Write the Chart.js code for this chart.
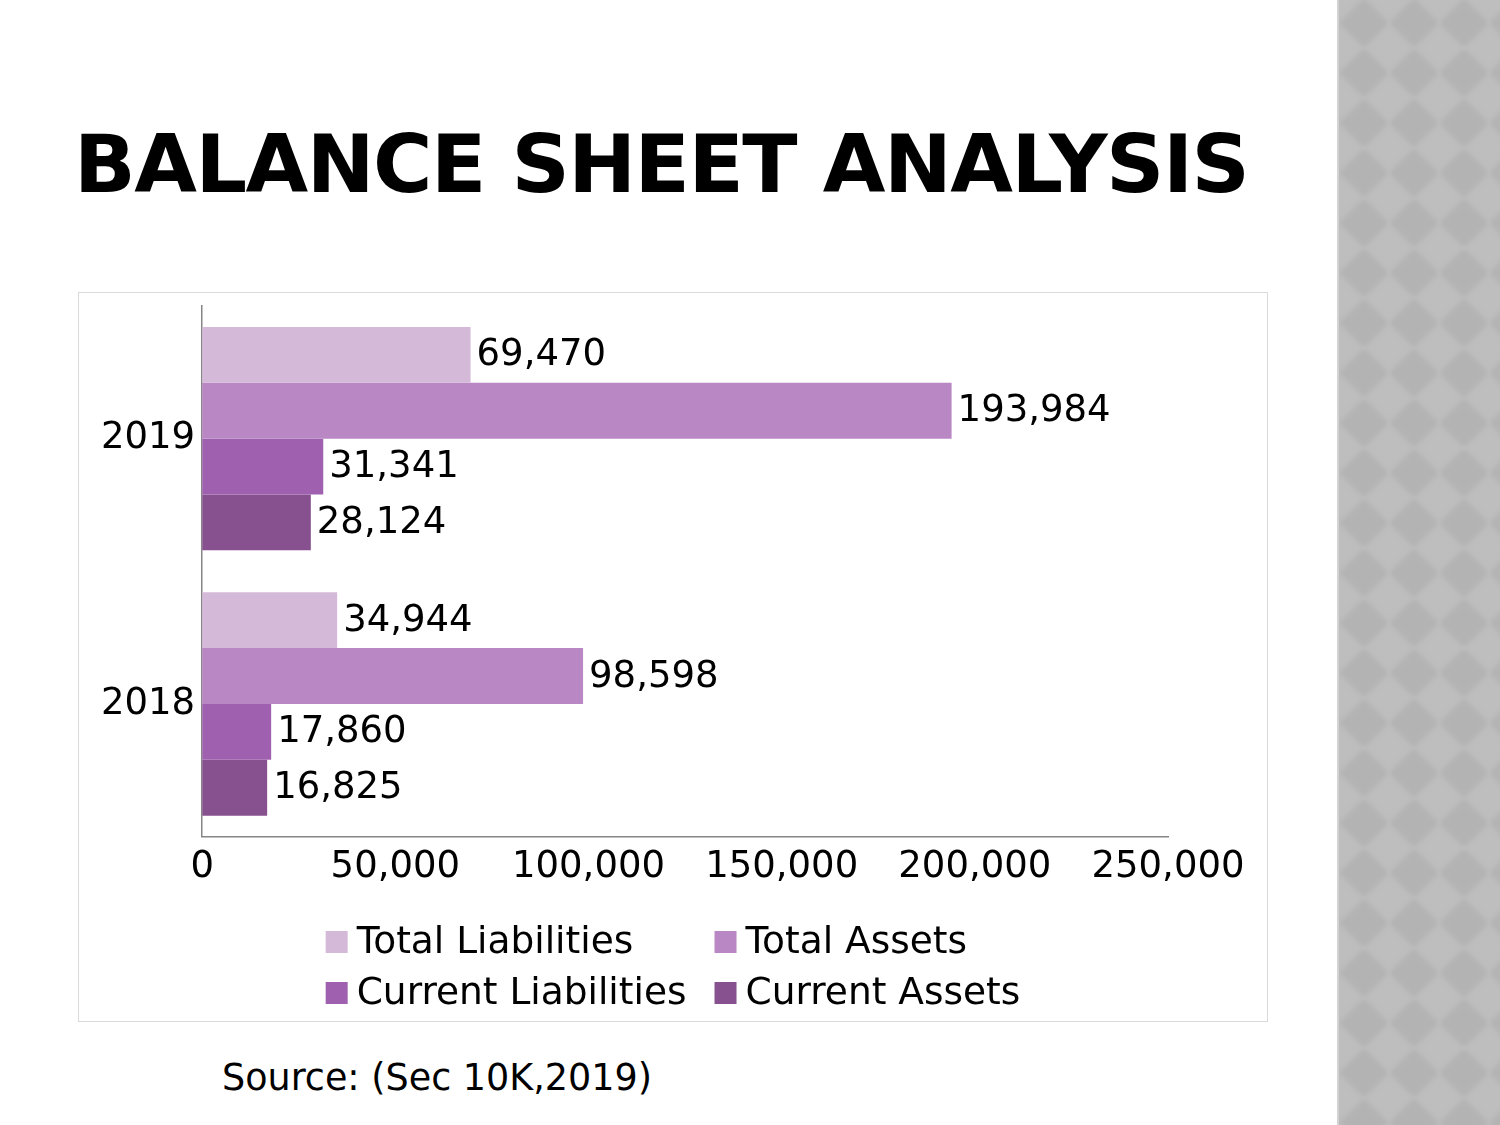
<!DOCTYPE html>
<html>
<head>
<meta charset="utf-8">
<script src="https://cdn.jsdelivr.net/npm/chart.js@4/dist/chart.umd.min.js"></script>
<style>
    html, body { margin: 0; padding: 0; }
    body {
        width: 1500px;
        height: 1125px;
        position: relative;
        background: #ffffff;
        font-family: 'DejaVu Sans', sans-serif;
        overflow: hidden;
    }
    #titulo {
        position: absolute;
        left: 74px;
        top: 114px;
        font-size: 81px;
        font-weight: bold;
        letter-spacing: -1.5px;
        line-height: 100px;
        color: #000;
        white-space: nowrap;
    }
    #faixa {
        position: absolute;
        left: 1337px;
        top: 0;
        width: 163px;
        height: 1125px;
        border-left: 2px solid #d2d2d2;
        box-sizing: border-box;
        background-color: #bebebe;
        background-image: url("data:image/svg+xml;utf8,<svg xmlns='http://www.w3.org/2000/svg' width='50' height='50'><defs><filter id='b'><feGaussianBlur stdDeviation='2.5'/></filter></defs><polygon points='25,0 50,25 25,50 0,25' fill='%23b3b3b3' filter='url(%23b)'/></svg>");
        background-position: 0px -2px;
    }
    #caixa {
        position: absolute;
        left: 78px;
        top: 292px;
        width: 1190px;
        height: 730px;
        border: 1px solid #d9d9d9;
        box-sizing: border-box;
    }
    #fonte {
        position: absolute;
        left: 222px;
        top: 1056px;
        font-size: 36.5px;
        line-height: 44px;
        color: #000;
        white-space: nowrap;
    }
</style>
</head>
<body>
<div id="titulo">BALANCE SHEET ANALYSIS</div>
<div id="faixa"></div>
<div id="caixa"><canvas id="grafico-balanco" width="1188" height="728"></canvas></div>
<div id="fonte">Source: (Sec 10K,2019)</div>

<script>
// Dados do gráfico
const anos = ['2019', '2018'];
const totalLiabilities = [69470, 34944];
const totalAssets = [193984, 98598];
const currentLiabilities = [31341, 17860];
const currentAssets = [28124, 16825];
const nomesSeries = ['Total Liabilities', 'Total Assets', 'Current Liabilities', 'Current Assets'];
const ticksX = [0, 50000, 100000, 150000, 200000, 250000];

const cores = ['#d4b9d9', '#b987c4', '#a060b0', '#87518f'];
const fonteBase = "'DejaVu Sans', sans-serif";

function formatarNumero(v) {
    return v.toLocaleString('en-US');
}

// Plugin para rótulos de valor no fim das barras
const rotulosValores = {
    id: 'rotulosValores',
    afterDatasetsDraw(chart) {
        const ctx = chart.ctx;
        ctx.save();
        ctx.font = '37px ' + fonteBase;
        ctx.fillStyle = '#000';
        ctx.textBaseline = 'middle';
        ctx.textAlign = 'left';
        chart.data.datasets.forEach((ds, i) => {
            chart.getDatasetMeta(i).data.forEach((bar, j) => {
                ctx.fillText(formatarNumero(ds.data[j]), bar.x + 6, bar.y + 1);
            });
        });
        ctx.restore();
    }
};

// Plugin para legenda em duas colunas
const legendaGrade = {
    id: 'legendaGrade',
    afterDraw(chart) {
        const ctx = chart.ctx;
        const ds = chart.data.datasets;
        ctx.save();
        ctx.font = '37.5px ' + fonteBase;
        ctx.textBaseline = 'middle';
        const caixa = 22, gap = 9, espaco = 28;
        const larg = ds.map(d => caixa + gap + ctx.measureText(d.label).width);
        const col1 = Math.max(larg[0], larg[2]);
        const col2 = Math.max(larg[1], larg[3]);
        const total = col1 + espaco + col2;
        const x0 = (chart.width - total) / 2;
        const xs = [x0, x0 + col1 + espaco];
        const ys = [649, 700];
        ds.forEach((d, i) => {
            const x = xs[i % 2];
            const y = ys[Math.floor(i / 2)];
            ctx.fillStyle = d.backgroundColor;
            ctx.fillRect(x, y - 11, caixa, caixa);
            ctx.fillStyle = '#000';
            ctx.fillText(d.label, x + caixa + gap, y + 1);
        });
        ctx.restore();
    }
};

const ctx = document.getElementById('grafico-balanco');
new Chart(ctx, {
    type: 'bar',
    data: {
        labels: anos,
        datasets: [
            { label: nomesSeries[0], data: totalLiabilities, backgroundColor: cores[0] },
            { label: nomesSeries[1], data: totalAssets, backgroundColor: cores[1] },
            { label: nomesSeries[2], data: currentLiabilities, backgroundColor: cores[2] },
            { label: nomesSeries[3], data: currentAssets, backgroundColor: cores[3] }
        ]
    },
    options: {
        indexAxis: 'y',
        responsive: false,
        animation: false,
        categoryPercentage: 0.842,
        barPercentage: 1,
        layout: {
            padding: { left: 15, right: 99, top: 13, bottom: 122 }
        },
        scales: {
            x: {
                min: 0,
                max: 250000,
                afterBuildTicks(scale) {
                    scale.ticks = ticksX.map(v => ({ value: v }));
                },
                ticks: {
                    color: '#000',
                    padding: 9,
                    maxRotation: 0,
                    font: { family: fonteBase, size: 37 },
                    callback: v => formatarNumero(v)
                },
                grid: { display: false, drawTicks: false },
                border: { display: true, color: '#868686', width: 1.5 }
            },
            y: {
                afterFit(scale) {
                    scale.paddingTop = 0;
                    scale.paddingBottom = 0;
                },
                ticks: {
                    color: '#000',
                    padding: 7,
                    font: { family: fonteBase, size: 37 }
                },
                grid: { display: false, drawTicks: false },
                border: { display: true, color: '#868686', width: 1.5 }
            }
        },
        plugins: {
            legend: { display: false },
            tooltip: { enabled: false }
        }
    },
    plugins: [rotulosValores, legendaGrade]
});
</script>
</body>
</html>
